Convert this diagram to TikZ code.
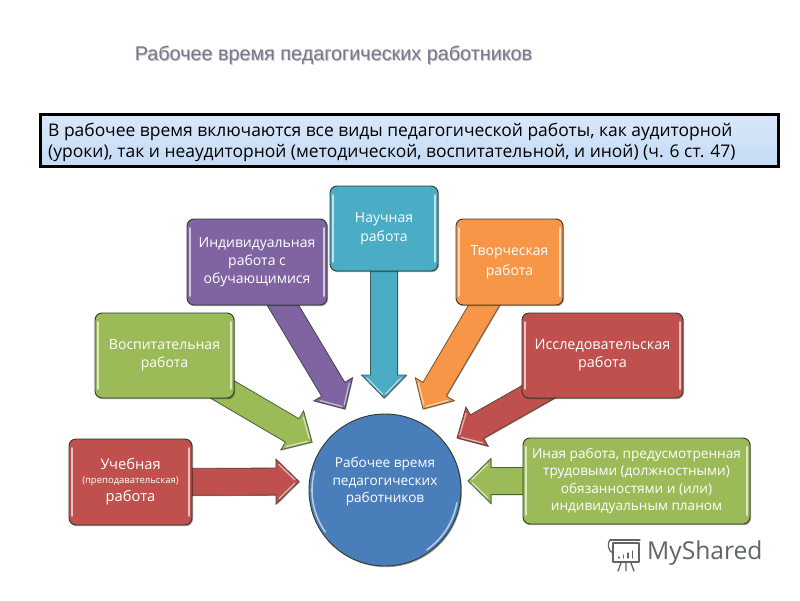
\documentclass[tikz,border=0pt]{standalone}
\usepackage{fontspec}
\setmainfont{Open Sans}
\newfontfamily\titlefont{Liberation Sans}
\usetikzlibrary{shadows,calc,backgrounds}
\definecolor{cred}{HTML}{C0504D}
\definecolor{cgreen}{HTML}{9BBB59}
\definecolor{cpurple}{HTML}{8064A2}
\definecolor{ccyan}{HTML}{4BACC6}
\definecolor{corange}{HTML}{F79646}
\definecolor{cblue}{HTML}{4A7EBB}
\definecolor{edgedark}{HTML}{2F3A2A}
\definecolor{titlecol}{HTML}{77778F}
\definecolor{notetop}{HTML}{D9E8F9}
\definecolor{notebot}{HTML}{C4DBF5}
\definecolor{brandcol}{HTML}{5E6468}
\newcommand{\dn}[2]{\raisebox{-#1}{#2}}
\tikzset{
  panel/.style={draw=edgedark, line width=0.9pt, rounded corners=7pt, fill=#1,
    text=white, align=center, inner sep=0pt, font=\fontsize{14}{18}\selectfont,
    drop shadow={shadow xshift=1pt,shadow yshift=-1.2pt,opacity=.35,fill=black},
    path picture={
      \draw[white!65!#1, line width=1.6pt, line cap=round]
        ($(path picture bounding box.north west)+(3pt,-9pt)$) -- ($(path picture bounding box.south west)+(3pt,9pt)$)
        ($(path picture bounding box.north east)+(-3pt,-9pt)$) -- ($(path picture bounding box.south east)+(-3pt,9pt)$);
    }},
  hub/.style={circle, draw=edgedark, line width=0.9pt, minimum size=152pt, inner sep=0pt,
    fill=cblue, drop shadow={shadow xshift=1pt,shadow yshift=-1.2pt,opacity=.35,fill=black}},
  hubglow/.style={white!60!cblue, line width=1.6pt, line cap=round},
  blockarrow/.style={draw=edgedark!70!#1, line width=0.8pt, fill=#1, line join=miter,
    drop shadow={shadow xshift=.8pt,shadow yshift=-.8pt,opacity=.3,fill=black}},
  arrowglow/.style={white!55!#1, line width=1.3pt, line cap=round},
  logoline/.style={draw=brandcol, line width=1.3pt, line cap=round, line join=round},
}
% #1 source node, #2 tip coordinate, #3 colour
\newcommand{\blockarr}[3]{%
  \begin{scope}[on background layer]
  \path let \p1=($(#2)-(#1.center)$) in \pgfextra{%
    \pgfmathparse{veclen(\x1,\y1)}\global\let\arrlen\pgfmathresult
    \pgfmathparse{atan2(\y1,\x1)}\global\let\arrang\pgfmathresult};
  \draw[blockarrow=#3, shift={(#2)}, rotate=\arrang]
    (-\arrlen pt,-13.5pt) -- (-23pt,-13.5pt) -- (-23pt,-22.5pt) -- (0pt,0pt) -- (-23pt,22.5pt) -- (-23pt,13.5pt) -- (-\arrlen pt,13.5pt) -- cycle;
  \draw[arrowglow=#3, shift={(#2)}, rotate=\arrang]
    (-20pt,-17pt) -- (-4pt,-1.5pt) (-20pt,17pt) -- (-4pt,1.5pt);
  \end{scope}}
\begin{document}
\begin{tikzpicture}[x=1pt,y=-1pt]
\useasboundingbox (0,0) rectangle (800,600);
\begin{scope}[on background layer]
\fill[white] (0,0) rectangle (800,600);
\end{scope}

\node[text=gray!45, font=\titlefont\fontsize{19.8}{22}\selectfont] (titleshade) at (334.5,56) {Рабочее время педагогических работников};
\node[text=titlecol, font=\titlefont\fontsize{19.8}{22}\selectfont] (title) at (333.5,55) {Рабочее время педагогических работников};

\node[draw=black, line width=2.2pt, minimum width=738pt, minimum height=52pt, inner sep=0pt,
  top color=notetop, bottom color=notebot,
  drop shadow={shadow xshift=1pt,shadow yshift=-1pt,opacity=.4,fill=black}] (note) at (409.5,140.5) {};
\node[anchor=west, align=left, text=black, inner sep=0pt, font=\fontsize{17.45}{21}\selectfont] (notetext) at (48,142)
  {В рабочее время включаются все виды педагогической работы, как аудиторной\\
   (уроки), так и неаудиторной (методической, воспитательной, и иной) (ч. 6 ст. 47)};

\node[hub] (center) at (385,490) {};
\draw[hubglow] ([shift={(165:73pt)}]center.center) arc[start angle=165,end angle=215,radius=73pt];
\draw[hubglow] ([shift={(-10:73pt)}]center.center) arc[start angle=-10,end angle=-55,radius=73pt];
\node[text=white, align=center, font=\fontsize{13.6}{17.5}\selectfont] (hubtext) at (385,481.5) {Рабочее время\\педагогических\\работников};

\node[panel=cred, minimum width=123pt, minimum height=86pt] (study) at (130.5,482)
  {\dn{2pt}{\fontsize{14.7}{16}\selectfont Учебная}\\[-4pt]\dn{2pt}{\fontsize{9.5}{16}\selectfont (преподавательская)}\\\dn{2pt}{\fontsize{14.7}{16}\selectfont работа}};
\node[panel=cgreen, minimum width=139pt, minimum height=85pt] (educ) at (164.5,355.5) {Воспитательная\\работа};
\node[panel=cpurple, minimum width=140pt, minimum height=86pt] (indiv) at (257,262) {\dn{2.5pt}{Индивидуальная}\\\dn{2.5pt}{работа с}\\\dn{2.5pt}{обучающимися}};
\node[panel=ccyan, minimum width=108pt, minimum height=85pt] (sci) at (384,228.5) {\dn{1pt}{Научная}\\[1pt]\dn{1pt}{работа}};
\node[panel=corange, minimum width=107pt, minimum height=86pt] (creat) at (509.5,262) {\dn{2pt}{Творческая}\\[2pt]\dn{2pt}{работа}};
\node[panel=cred, minimum width=161pt, minimum height=85pt, font=\fontsize{14.4}{18}\selectfont] (res) at (602.5,355.5) {Исследовательская\\работа};
\node[panel=cgreen, minimum width=227pt, minimum height=86pt, font=\fontsize{13.6}{17.5}\selectfont] (other) at (636.5,481)
  {Иная работа, предусмотренная\\трудовыми (должностными)\\обязанностями и (или)\\индивидуальным планом};

\coordinate (t1) at (299,481.5);
\coordinate (t2) at (312,442);
\coordinate (t3) at (345,409);
\coordinate (t4) at (384,398);
\coordinate (t5) at (423,409);
\coordinate (t6) at (457,438);
\coordinate (t7) at (468,481);

\blockarr{study}{t1}{cred}
\blockarr{educ}{t2}{cgreen}
\blockarr{indiv}{t3}{cpurple}
\blockarr{sci}{t4}{ccyan}
\blockarr{creat}{t5}{corange}
\blockarr{res}{t6}{cred}
\blockarr{other}{t7}{cgreen}

% watermark
\node[anchor=west, inner sep=0pt, text=brandcol, font=\fontsize{24.6}{27}\selectfont] (brand) at (647,553) {MyShared};
\draw[logoline] (613,543) rectangle (639,562);
\draw[logoline] (610,540) -- (640,540);
\draw[logoline] (610,540) .. controls (607,542) and (608,552) .. (613,553);
\draw[logoline] (619,558) -- (619,557) (623.5,558) -- (623.5,555) (628,558) -- (628,553) (632.5,558) -- (632.5,551);
\draw[logoline] (621,563) -- (618,571) (626,563) -- (626,571) (631,563) -- (634,571);
\end{tikzpicture}
\end{document}
